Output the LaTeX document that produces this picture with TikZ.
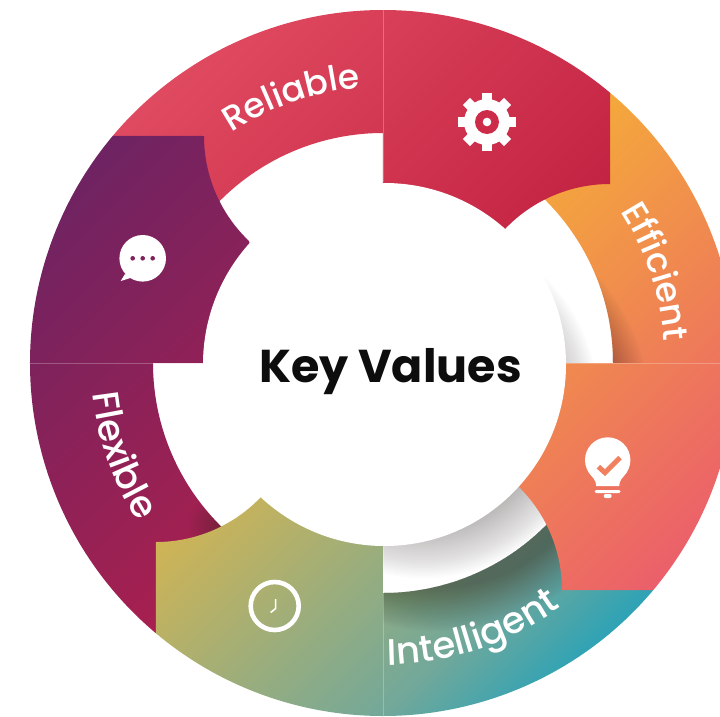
\documentclass[tikz,border=0pt]{standalone}
\usepackage{fontspec}
\setmainfont{Poppins}
\newfontfamily\labfam{Poppins Medium}
\usetikzlibrary{decorations.text}
\definecolor{redA}{HTML}{E04A60}\definecolor{redB}{HTML}{C32342}
\definecolor{orgA}{HTML}{F4A93B}\definecolor{orgB}{HTML}{EB5F6B}
\definecolor{yelA}{HTML}{D0B455}\definecolor{yelB}{HTML}{72A89A}\definecolor{yelC}{HTML}{2FA3B5}
\definecolor{purA}{HTML}{6E2362}\definecolor{purB}{HTML}{A8204F}
\definecolor{shadowtone}{HTML}{2A2020}
\definecolor{gearhole}{HTML}{CC2C4A}\definecolor{bulbtick}{HTML}{F0805F}\definecolor{chatdots}{HTML}{82235C}
\pgfdeclareverticalshading{redgrad}{100bp}{color(0bp)=(redB); color(43.75bp)=(redB); color(56.25bp)=(redA); color(100bp)=(redA)}
\pgfdeclareverticalshading{orggrad}{100bp}{color(0bp)=(orgB); color(43.75bp)=(orgB); color(56.25bp)=(orgA); color(100bp)=(orgA)}
\pgfdeclareverticalshading{yelgrad}{100bp}{color(0bp)=(yelC); color(43.75bp)=(yelC); color(47.03bp)=(yelB); color(56.25bp)=(yelA); color(100bp)=(yelA)}
\pgfdeclareverticalshading{purgrad}{100bp}{color(0bp)=(purB); color(43.75bp)=(purB); color(56.25bp)=(purA); color(100bp)=(purA)}
% sector of the text ring, angles 90..140 before rotation
\def\sectorpath{(90:353) arc[start angle=90,end angle=140,radius=353] -- (140:230) arc[start angle=140,end angle=90,radius=230] -- cycle}
% icon block, the gear position before rotation
\def\blockpath{(0,353) arc[start angle=90,end angle=49.95,radius=353] -- (227,179) arc[start angle=90,end angle=136.4,radius=145] -- (0,100) -- cycle}
% #1 path, #2 rotation, #3 shading, #4 cx, #5 cy, #6 half size
\newcommand{\gradpart}[6]{\begin{scope}\clip[rotate=#2] #1;
 \shade[shading=#3,shading angle=45] (#4-#6,#5-#6) rectangle (#4+#6,#5+#6);\end{scope}}
\newcommand{\labfont}[1]{\labfam\fontsize{#1}{#1}\selectfont\color{white}}
\tikzset{seamline/.style={white,opacity=.25,line width=.7pt}}
\begin{document}
\begin{tikzpicture}[x=1pt,y=1pt]
\useasboundingbox (-383,-353) rectangle (337,363);
% text ring
\gradpart{\sectorpath}{0}{redgrad}{-112}{112}{770}
\gradpart{\sectorpath}{-90}{orggrad}{113.5}{-113.5}{770}
\gradpart{\sectorpath}{-180}{yelgrad}{112}{-112}{770}
\gradpart{\sectorpath}{90}{purgrad}{-113.5}{113.5}{770}
% shadows falling on the ring
\begin{scope}
\clip[rotate=-90] \sectorpath;
\foreach \i in {0,...,29} \fill[shadowtone,opacity=.014] (55,-55) circle[radius={170+1.5*\i}];
\end{scope}
\begin{scope}
\clip[rotate=-180] \sectorpath;
\foreach \i in {0,...,29} \fill[shadowtone,opacity=.014] (55,-55) circle[radius={170+1.5*\i}];
\end{scope}
\begin{scope}
\clip[rotate=90] \sectorpath;
\foreach \i in {0,...,19} \fill[shadowtone,opacity=.010] (-163,-164) circle[radius={3+1.5*\i}];
\end{scope}
% shadow of the disc on the white ring
\begin{scope}
\clip (0,0) circle[radius=230];
\foreach \i in {0,...,25} \fill[shadowtone,opacity=.016] (40,-40) circle[radius={125+2*\i}];
\end{scope}
% icon blocks
\gradpart{\blockpath}{0}{redgrad}{-112}{112}{770}
\gradpart{\blockpath}{-90}{orggrad}{113.5}{-113.5}{770}
\gradpart{\blockpath}{-180}{yelgrad}{112}{-112}{770}
\gradpart{\blockpath}{90}{purgrad}{-113.5}{113.5}{770}
% hairline seams between neighbouring parts
\draw[seamline] (0,353) -- (0,181);
\draw[seamline] (-353,0) -- (-181,0);
\draw[seamline] (181,0) -- (353,0);
\draw[seamline] (0,-181) -- (0,-353);
% centre disc
\node[circle,fill=white,minimum size=363pt,inner sep=0pt] (disc) at (1.5,-1.5) {};
\node[anchor=base,font=\fontsize{46}{46}\selectfont\bfseries,text=black!95] (title) at (7.5,-19) {Key Values};
% gear icon
\begin{scope}[shift={(104,241)}]
\foreach \a in {0,45,...,315} \fill[white,rotate=\a] (-5,0) rectangle (5,29);
\fill[white] (0,0) circle[radius=23];
\fill[gearhole] (0,0) circle[radius=12];
\fill[white] (0,0) circle[radius=4.3];
\end{scope}
% bulb icon
\begin{scope}[shift={(224.7,-97)}]
\fill[white] (0,0) circle[radius=22.7];
\fill[white] (-19,-12) .. controls (-15,-18) and (-11.5,-20) .. (-11.5,-26) -- (11.5,-26) .. controls (11.5,-20) and (15,-18) .. (19,-12) -- cycle;
\fill[white,rounded corners=1.5pt] (-13,-30) rectangle (13,-33);
\fill[white,rounded corners=2pt] (-4,-34) rectangle (4,-38);
\draw[bulbtick,line width=5pt] (-9.3,-6.7) -- (-2.7,-12.7) -- (12.3,2.3);
\end{scope}
% chat icon
\begin{scope}[shift={(-240.3,104.7)}]
\fill[white] (0,0) circle[radius=23.3];
\fill[white] (-17.7,-15.7) -- (-22,-22.7) -- (-11,-19.3) -- cycle;
\foreach \a in {-10,0,10} \fill[chatdots] (\a,0) circle[radius=2.3];
\end{scope}
% clock icon
\begin{scope}[shift={(-108.3,-243)}]
\draw[white,line width=4.6pt] (0,0) circle[radius=24];
\draw[white,line width=1.6pt] (1,7) -- (1,-2.5) -- (-4,-6.5);
\end{scope}
% labels
\path[postaction={decorate},decoration={text along path,text align=center,text={|\labfont{34.5}|Reliable}}] (124.5:276) arc[start angle=124.5,end angle=93.5,radius=276];
\path[postaction={decorate},decoration={text along path,text align=center,text={|\labfont{35}|Efficient}}] (34:282) arc[start angle=34,end angle=3,radius=282];
\path[postaction={decorate},decoration={text along path,text align=center,text={|\labfont{37}|Intelligent}}] (-91:302) arc[start angle=-91,end angle=-52,radius=302];
\path[postaction={decorate},decoration={text along path,text align=center,text={|\labfont{37}|Flexible}}] (184:292) arc[start angle=184,end angle=215,radius=292];
\end{tikzpicture}
\end{document}
